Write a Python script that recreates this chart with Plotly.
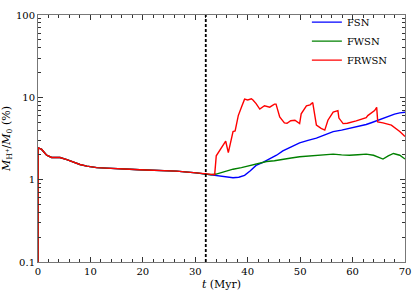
import plotly.graph_objects as go

# shared early evolution (all runs identical before the event)
t_early = [0.0, 0.02, 0.7, 1.65, 2.6, 4.2, 5.5, 6.7, 8.0, 9.3, 11.2, 13.0, 15.0, 17.5, 19.4, 22.6, 26.4, 30.2, 32.0, 33.0]
v_early = [0.05, 2.44, 2.33, 1.98, 1.86, 1.86, 1.75, 1.63, 1.53, 1.46, 1.40, 1.38, 1.37, 1.34, 1.32, 1.30, 1.27, 1.21, 1.17, 1.15]

t_fsn = [34.0, 35.0, 36.0, 37.2, 38.3, 39.4, 40.5, 41.6, 42.9, 44.2, 45.5, 46.7, 48.3, 49.9, 51.5, 53.1, 54.7, 56.3, 57.9, 59.4, 61.0, 62.6, 63.7, 64.8, 65.9, 67.0, 68.0, 69.0, 70.0]
v_fsn = [1.12, 1.09, 1.07, 1.055, 1.07, 1.13, 1.28, 1.49, 1.62, 1.78, 1.98, 2.24, 2.50, 2.80, 3.0, 3.2, 3.5, 3.84, 4.0, 4.2, 4.45, 4.68, 4.95, 5.27, 5.6, 6.0, 6.25, 6.47, 6.6]

t_fwsn = [34.0, 35.5, 37.2, 38.8, 40.4, 42.0, 43.6, 45.1, 46.7, 48.3, 49.9, 51.5, 53.1, 54.7, 56.3, 57.9, 59.4, 61.0, 62.6, 64.0, 65.0, 65.8, 66.8, 67.8, 69.0, 70.0]
v_fwsn = [1.17, 1.25, 1.34, 1.40, 1.49, 1.58, 1.66, 1.70, 1.75, 1.83, 1.90, 1.93, 1.95, 1.98, 2.04, 2.00, 1.98, 2.01, 2.04, 1.98, 1.85, 1.78, 1.95, 2.08, 1.98, 1.78]

t_frwsn = [33.7, 34.0, 35.0, 35.8, 36.3, 37.2, 37.6, 38.2, 38.8, 39.4, 40.0, 40.7, 41.0, 41.6, 42.3, 43.2, 44.2, 45.1, 45.4, 46.1, 47.0, 47.5, 48.2, 49.0, 49.9, 50.2, 51.2, 51.9, 52.4, 53.1, 54.0, 54.7, 55.3, 56.3, 57.2, 57.4, 58.2, 59.0, 60.7, 62.6, 62.9, 64.2, 64.6, 64.8, 65.8, 67.4, 69.0, 70.0]
v_frwsn = [1.15, 1.95, 2.5, 2.93, 2.13, 3.84, 3.9, 6.0, 7.56, 9.5, 9.3, 9.6, 9.3, 8.4, 7.2, 7.9, 7.6, 8.27, 8.27, 5.77, 4.9, 4.85, 5.2, 5.27, 4.8, 6.3, 7.9, 8.1, 8.65, 4.6, 4.2, 4.0, 5.27, 6.6, 6.9, 5.6, 4.8, 4.85, 5.17, 5.66, 6.0, 6.9, 7.56, 5.04, 4.9, 4.6, 3.84, 3.35]

event_time = 32

y_ticks = [0.1, 1, 10, 100]
y_tick_labels = ["0.1", "1", "10", "100"]
y_minor = [m * d for d in (0.1, 1, 10) for m in range(2, 10)]

series = [
    ("FSN", t_fsn, v_fsn, "#0000ff"),
    ("FWSN", t_fwsn, v_fwsn, "#008000"),
    ("FRWSN", t_frwsn, v_frwsn, "#ff0000"),
]

fig = go.Figure()
for name, t, v, c in series:
    fig.add_trace(go.Scatter(x=t_early + t, y=v_early + v, mode="lines", name=name,
                             line=dict(color=c, width=1.4)))

fig.add_vline(x=event_time, line=dict(color="black", width=1.8, dash="3px,2px"))

font = "DejaVu Serif, Liberation Serif, serif"
axis_common = dict(showline=True, linecolor="#777777", linewidth=1, mirror="ticks",
                   ticks="inside", tickcolor="#333333", showgrid=False, zeroline=False,
                   automargin=False,
                   tickfont=dict(size=10, color="black", family=font))
fig.update_xaxes(range=[0, 70], dtick=10, ticklen=5,
                 minor=dict(dtick=2, ticks="inside", ticklen=3, tickcolor="#333333"),
                 title=dict(text="<i>t</i> (Myr)", font=dict(size=11, family=font, color="black"), standoff=4),
                 **axis_common)
fig.update_yaxes(type="log", range=[-1, 2], ticklen=5,
                 tickvals=y_ticks, ticktext=y_tick_labels,
                 minor=dict(tickvals=y_minor, ticks="inside", ticklen=3, tickcolor="#333333", showgrid=False),
                 title=dict(text="<i>M</i><sub>H<sup>+</sup></sub>/<i>M</i><sub>0</sub> (%)",
                            font=dict(size=11, family=font, color="black"), standoff=5),
                 **axis_common)

fig.update_layout(width=416, height=291, margin=dict(l=38, r=11, t=8, b=29),
                  paper_bgcolor="white", plot_bgcolor="white",
                  font=dict(family=font, color="black"),
                  legend=dict(x=0.967, y=1.03, xanchor="right", yanchor="top",
                              bgcolor="rgba(0,0,0,0)", font=dict(size=10, family=font),
                              itemwidth=30, tracegroupgap=0))

fig.write_html("out.html", config={"displayModeBar": False},
               post_script="document.body.style.margin='0';document.body.style.padding='0';")
